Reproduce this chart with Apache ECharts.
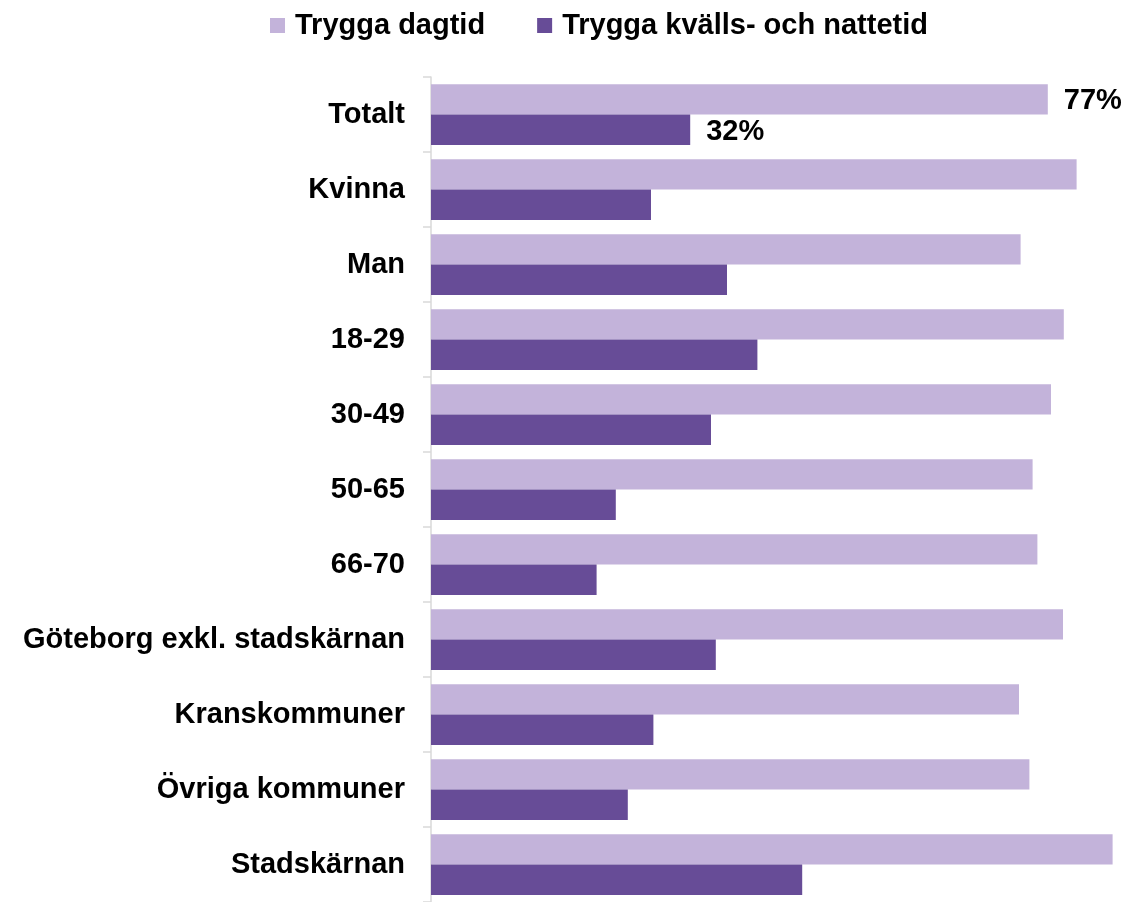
<!DOCTYPE html>
<html>
<head>
<meta charset="utf-8">
<script src="https://cdn.jsdelivr.net/npm/echarts@6/dist/echarts.min.js"></script>
<style>
html,body{margin:0;padding:0;background:#fff;}
#chart{width:1127px;height:902px;}
</style>
</head>
<body>
<div id="chart"></div>
<script>
const categories = ['Totalt','Kvinna','Man','18-29','30-49','50-65','66-70','Göteborg exkl. stadskärnan','Kranskommuner','Övriga kommuner','Stadskärnan'];
const seriesNames = ['Trygga dagtid','Trygga kvälls- och nattetid'];
const dagtid = [77.1, 80.7, 73.7, 79.1, 77.5, 75.2, 75.8, 79.0, 73.5, 74.8, 85.2];
const kvallNatt = [32.4, 27.5, 37.0, 40.8, 35.0, 23.1, 20.7, 35.6, 27.8, 24.6, 46.4];
const labelledIndex = [0];

const FONT = '"Liberation Sans", Arial, sans-serif';
const colors = ['#C3B3DA', '#674C97'];

function buildData(values){
  return values.map(function(v, i){
    if (labelledIndex.indexOf(i) >= 0) {
      return { value: v, label: { show: true } };
    }
    return v;
  });
}

const chart = echarts.init(document.getElementById('chart'), null, {renderer: 'canvas'});
chart.setOption({
  animation: false,
  backgroundColor: '#ffffff',
  color: colors,
  textStyle: { fontFamily: FONT },
  legend: {
    left: 265,
    top: 6,
    itemWidth: 15,
    itemHeight: 15,
    itemGap: 52,
    icon: 'rect',
    textStyle: { fontFamily: FONT, fontSize: 29, fontWeight: 'bold', color: '#000', padding: [0, 0, 0, 5] },
    data: seriesNames
  },
  grid: {
    left: 431,
    top: 77,
    right: 8,
    height: 830.5,
    containLabel: false
  },
  xAxis: {
    type: 'value',
    min: 0,
    max: 86,
    show: false
  },
  yAxis: {
    type: 'category',
    data: categories,
    inverse: true,
    axisLine: { show: true, lineStyle: { color: '#d9d9d9', width: 1.5 } },
    axisTick: { show: true, length: 8, alignWithLabel: false, lineStyle: { color: '#d9d9d9', width: 1.5 } },
    axisLabel: { margin: 26, fontFamily: FONT, fontSize: 29, fontWeight: 'bold', color: '#000', padding: [5, 0, 0, 0] },
    splitLine: { show: false }
  },
  series: [
    {
      name: seriesNames[0],
      type: 'bar',
      data: buildData(dagtid),
      barGap: '0%',
      barCategoryGap: '19%',
      itemStyle: { color: colors[0] },
      label: {
        show: false,
        position: 'right',
        distance: 16,
        offset: [0, 2],
        fontFamily: FONT, fontSize: 29, fontWeight: 'bold', color: '#000',
        formatter: function(p){ return Math.round(p.value) + '%'; }
      }
    },
    {
      name: seriesNames[1],
      type: 'bar',
      data: buildData(kvallNatt),
      barGap: '0%',
      barCategoryGap: '19%',
      itemStyle: { color: colors[1] },
      label: {
        show: false,
        position: 'right',
        distance: 16,
        offset: [0, 2],
        fontFamily: FONT, fontSize: 29, fontWeight: 'bold', color: '#000',
        formatter: function(p){ return Math.round(p.value) + '%'; }
      }
    }
  ]
});
</script>
</body>
</html>
